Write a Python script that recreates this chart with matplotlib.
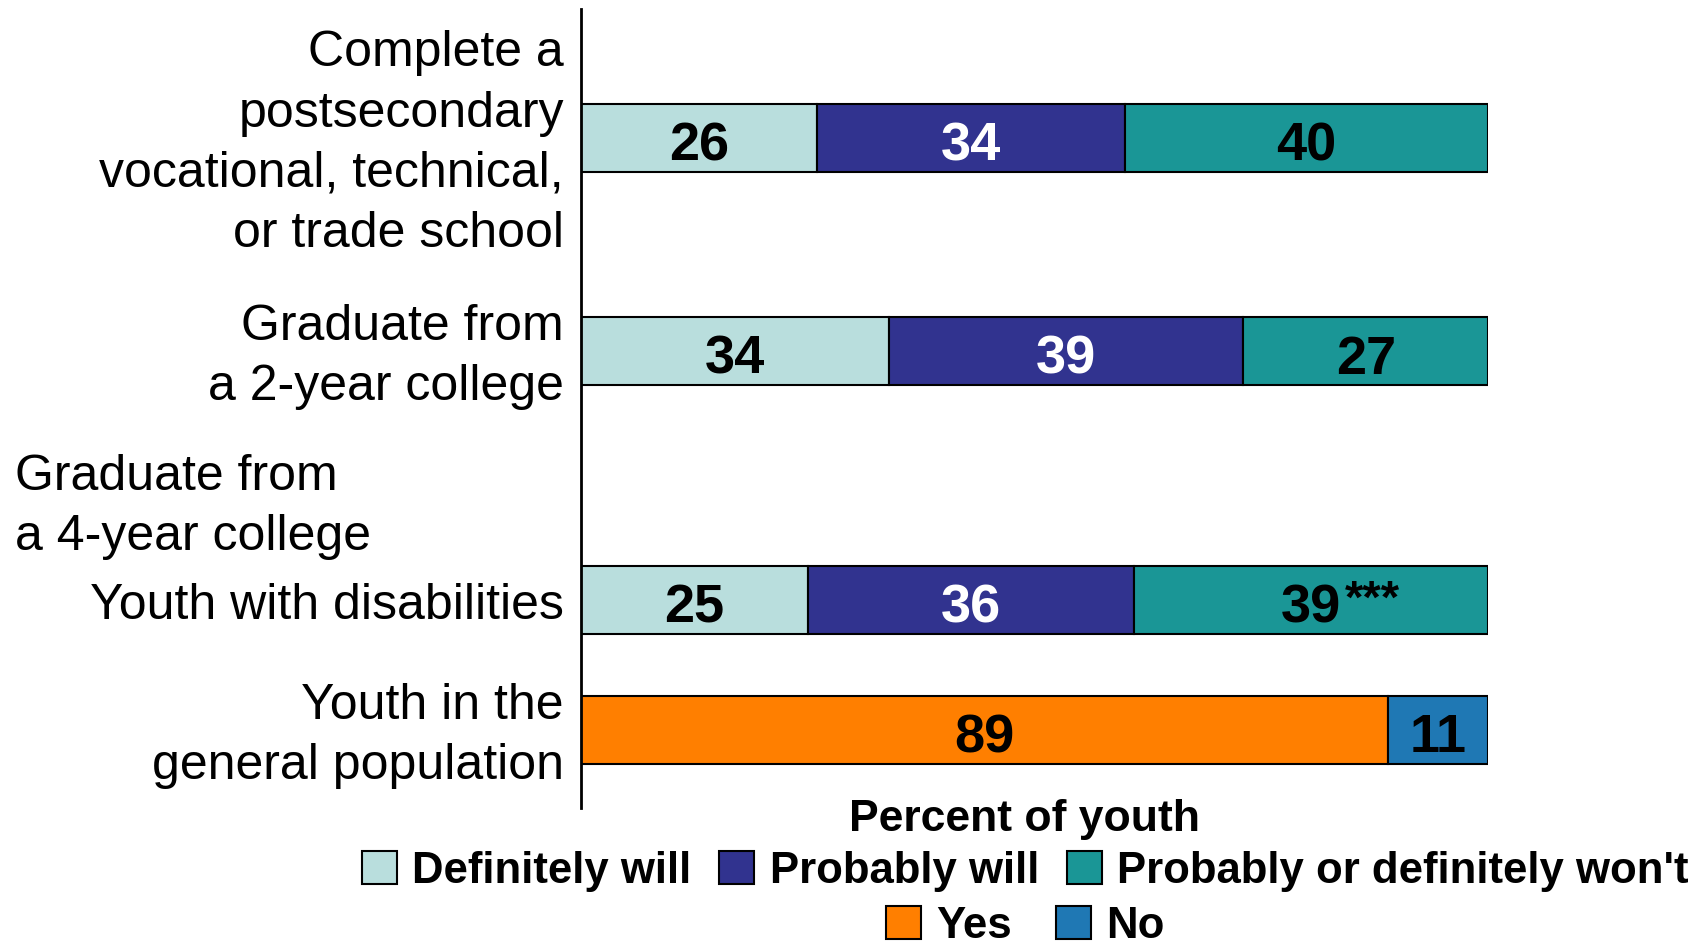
import matplotlib
matplotlib.use("Agg")
import matplotlib.pyplot as plt
from matplotlib.patches import Patch

plt.rcParams["font.family"] = ["Liberation Sans", "DejaVu Sans"]

# data
categories = [
    "Complete a\npostsecondary\nvocational, technical,\nor trade school",
    "Graduate from\na 2-year college",
    "Youth with disabilities",
    "Youth in the\ngeneral population",
]
group_header = "Graduate from\na 4-year college"
definitely_will = [26, 34, 25]
probably_will = [34, 39, 36]
probably_wont = [40, 27, 39]
wont_notes = ["", "", "***"]
gen_yes = [89]
gen_no = [11]

C_DEF = "#b9dedd"
C_PROB = "#31338f"
C_WONT = "#1a9696"
C_YES = "#ff7f00"
C_NO = "#1f78b4"

fig = plt.figure(figsize=(17.06, 9.44), dpi=100)
ax = fig.add_axes([0.3406, 0.1441, 0.5317, 0.8464])

ypos = [0.0, 1.64, 3.55, 4.55]
bar_h = 0.52
VAL_FS = 39
LS = 1.4


def value_label(x, y, txt, color):
    ax.annotate(txt, xy=(x, y), xytext=(0, -6), textcoords="offset points",
                ha="center", va="center", fontsize=VAL_FS,
                fontweight="bold", color=color)


three_pos = ypos[:3]
segs = [
    (definitely_will, C_DEF, "black"),
    (probably_will, C_PROB, "white"),
    (probably_wont, C_WONT, "black"),
]
left = [0] * len(three_pos)
for vals, col, tcol in segs:
    ax.barh(three_pos, vals, left=left, height=bar_h, color=col,
            edgecolor="black", linewidth=1.5)
    for y, l, v in zip(three_pos, left, vals):
        value_label(l + v / 2, y, str(v), tcol)
    left = [l + v for l, v in zip(left, vals)]

# significance marks after the last segment values
for y, a, b, v, note in zip(three_pos, definitely_will, probably_will,
                            probably_wont, wont_notes):
    if note:
        ax.annotate(note, xy=(a + b + v / 2, y), xytext=(24, -1),
                    textcoords="offset points", ha="left", va="center",
                    fontsize=34, fontweight="bold", color="black")

gp_y = [ypos[3]]
ax.barh(gp_y, gen_yes, height=bar_h, color=C_YES, edgecolor="black", linewidth=1.5)
ax.barh(gp_y, gen_no, left=gen_yes, height=bar_h, color=C_NO,
        edgecolor="black", linewidth=1.5)
value_label(gen_yes[0] / 2, gp_y[0], str(gen_yes[0]), "black")
value_label(gen_yes[0] + gen_no[0] / 2, gp_y[0], str(gen_no[0]), "black")

# category labels, right-aligned against the axis line
ytrans = ax.get_yaxis_transform()
for y, lab in zip(ypos, categories):
    ax.annotate(lab, xy=(0, y), xycoords=ytrans, xytext=(-12.3, -4.3),
                textcoords="offset points", ha="right", va="center",
                fontsize=36, multialignment="right", linespacing=LS)

ax.set_xlim(0, 100)
ax.set_ylim(5.15, -0.99)
ax.set_yticks([])
ax.set_xticks([])
for side in ("top", "right", "bottom"):
    ax.spines[side].set_visible(False)
ax.spines["left"].set_linewidth(2)

fig.text(15 / 1706, 1 - 507 / 944, group_header, ha="left", va="center",
         fontsize=36, linespacing=LS)

fig.text(1025 / 1706, 1 - 819 / 944, "Percent of youth", ha="center",
         va="center", fontsize=32, fontweight="bold")

h1 = [Patch(facecolor=C_DEF, edgecolor="black", linewidth=1.5),
      Patch(facecolor=C_PROB, edgecolor="black", linewidth=1.5),
      Patch(facecolor=C_WONT, edgecolor="black", linewidth=1.5)]
l1 = ["Definitely will", "Probably will", "Probably or definitely won't"]
h2 = [Patch(facecolor=C_YES, edgecolor="black", linewidth=1.5),
      Patch(facecolor=C_NO, edgecolor="black", linewidth=1.5)]
l2 = ["Yes", "No"]
leg_kw = dict(frameon=False, loc="center", handlelength=0.8, handleheight=0.8,
              handletextpad=0.35, borderpad=0, borderaxespad=0,
              prop={"size": 31.5, "weight": "bold"})
fig.legend(h1, l1, ncol=3, columnspacing=0.64,
           bbox_to_anchor=(0.601, 1 - 871 / 944), **leg_kw)
fig.legend(h2, l2, ncol=2, columnspacing=1.0,
           bbox_to_anchor=(0.601, 1 - 926 / 944), **leg_kw)

fig.savefig("out.png", dpi=100)
